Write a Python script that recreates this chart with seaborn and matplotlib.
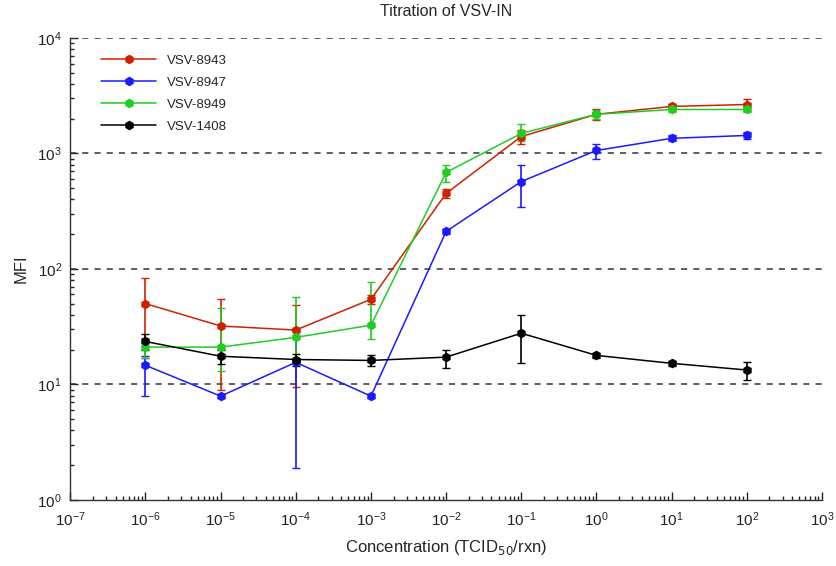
import numpy as np
import pandas as pd
import matplotlib
matplotlib.use("Agg")
import matplotlib.pyplot as plt
import seaborn as sns
from matplotlib.ticker import LogLocator, FixedLocator

conc = [1e-6, 1e-5, 1e-4, 1e-3, 1e-2, 1e-1, 1e0, 1e1, 1e2]
series = ["VSV-8943", "VSV-8947", "VSV-8949", "VSV-1408"]

mfi_8943 = [50, 32, 29.5, 54.5, 450, 1400, 2180, 2550, 2650]
lo_8943 = [33, 23, 20, 5, 40, 200, 250, 120, 300]
hi_8943 = [33, 23, 19, 5, 40, 200, 250, 120, 300]

mfi_8947 = [14.6, 7.9, 15.5, 7.9, 211, 570, 1060, 1350, 1430]
lo_8947 = [6.7, 0.3, 13.6, 0.3, 10, 230, 160, 80, 100]
hi_8947 = [3, 0.3, 13.6, 0.3, 10, 220, 150, 80, 100]

mfi_8949 = [21, 21, 25.5, 32.5, 685, 1490, 2180, 2400, 2400]
lo_8949 = [4, 8, 10, 8, 125, 200, 200, 100, 100]
hi_8949 = [4, 24.5, 31, 44, 110, 290, 200, 100, 100]

mfi_1408 = [23.5, 17.5, 16.4, 16.1, 17.2, 27.7, 17.8, 15.2, 13.3]
lo_1408 = [3.5, 2.5, 2, 1.8, 3.4, 12.5, 1, 0.8, 2.3]
hi_1408 = [4, 2.5, 2, 1.8, 2.5, 12.5, 1, 0.8, 2.3]

x_ticks = [1e-7, 1e-6, 1e-5, 1e-4, 1e-3, 1e-2, 1e-1, 1e0, 1e1, 1e2, 1e3]
y_ticks = [1e0, 1e1, 1e2, 1e3, 1e4]

colors = ["#cc2200", "#1a1aff", "#22cc22", "#000000"]
means = [mfi_8943, mfi_8947, mfi_8949, mfi_1408]
los = [lo_8943, lo_8947, lo_8949, lo_1408]
his = [hi_8943, hi_8947, hi_8949, hi_1408]

rows = []
for name, m in zip(series, means):
    for c, v in zip(conc, m):
        rows.append({"conc": c, "MFI": v, "series": name})
df = pd.DataFrame(rows)

sns.set_style("ticks")
plt.rcParams["font.family"] = ["Liberation Sans", "DejaVu Sans"]

fig = plt.figure(figsize=(8.37, 5.66), dpi=100)
ax = fig.add_axes([0.084, 0.117, 0.898, 0.816])

for name, m, lo, hi, col in zip(series, means, los, his, colors):
    ax.errorbar(conc, m, yerr=[lo, hi], fmt="none", ecolor=col, elinewidth=1.2,
                capsize=3, capthick=1.0, zorder=2)

sns.lineplot(data=df, x="conc", y="MFI", hue="series", hue_order=series,
             palette=colors, marker="h", markersize=7, markeredgewidth=0,
             linewidth=1.1, ax=ax, zorder=3, legend=True)

ax.set_xscale("log")
ax.set_yscale("log")
ax.set_xlim(1e-7, 1e3)
ax.set_ylim(1, 1e4)

ax.xaxis.set_major_locator(FixedLocator(x_ticks))
ax.yaxis.set_major_locator(FixedLocator(y_ticks))
ax.xaxis.set_minor_locator(LogLocator(base=10, subs=np.arange(2, 10), numticks=200))
ax.yaxis.set_minor_locator(LogLocator(base=10, subs=np.arange(2, 10), numticks=200))

for yv in y_ticks[1:]:
    ax.axhline(yv, color="#333333", linestyle=(0, (4, 4)), linewidth=1.1, zorder=1)

ax.tick_params(axis="both", which="both", direction="in", top=False, right=False,
               labelsize=11, colors="#222222")
ax.tick_params(axis="both", which="major", length=6, width=1)
ax.tick_params(axis="both", which="minor", length=3, width=1)
ax.tick_params(axis="x", which="major", pad=8)
ax.tick_params(axis="y", which="major", pad=6)

for s in ["top", "right"]:
    ax.spines[s].set_visible(False)
for s in ["left", "bottom"]:
    ax.spines[s].set_color("#333333")
    ax.spines[s].set_linewidth(1.0)

ax.set_title("Titration of VSV-IN", fontsize=11.5, pad=16)
ax.set_xlabel("Concentration (TCID$_{50}$/rxn)", fontsize=12, labelpad=6)
ax.set_ylabel("MFI", fontsize=12, labelpad=6)

handles, labels = ax.get_legend_handles_labels()
ax.legend(handles, labels, loc="upper left", bbox_to_anchor=(0.025, 0.99),
          frameon=False, fontsize=9.5, handlelength=4.2, labelspacing=0.75,
          handletextpad=0.8)

fig.savefig("out.png", dpi=100)
